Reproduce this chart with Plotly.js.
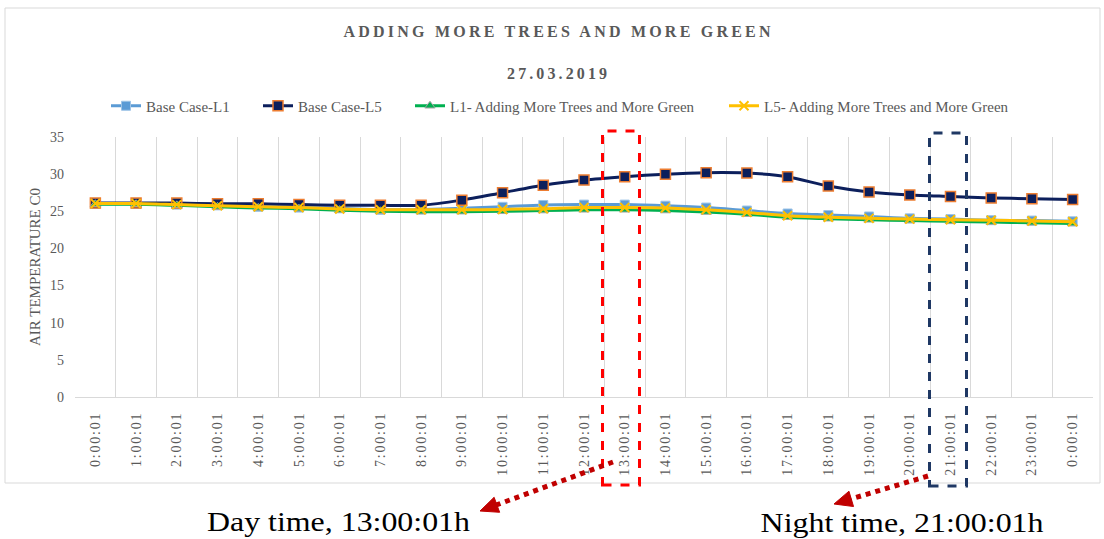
<!DOCTYPE html>
<html>
<head>
<meta charset="utf-8">
<script src="https://cdn.plot.ly/plotly-3.0.1.min.js"></script>
<style>
  html, body { margin: 0; padding: 0; background: #ffffff; }
  #chart { width: 1104px; height: 539px; }
</style>
</head>
<body>
<div id="chart"></div>
<script>
// ---- data ----
const timeLabels = ["0:00:01","1:00:01","2:00:01","3:00:01","4:00:01","5:00:01","6:00:01","7:00:01",
  "8:00:01","9:00:01","10:00:01","11:00:01","12:00:01","13:00:01","14:00:01","15:00:01","16:00:01",
  "17:00:01","18:00:01","19:00:01","20:00:01","21:00:01","22:00:01","23:00:01","0:00:01"];
const seriesNames = ["Base Case-L1", "Base Case-L5", "L1- Adding More Trees and More Green", "L5- Adding More Trees and More Green"];
const baseCaseL1 = [26.0,26.0,25.9,25.8,25.6,25.5,25.4,25.2,25.25,25.4,25.6,25.85,25.9,25.9,25.75,25.5,25.1,24.7,24.5,24.3,24.05,23.95,23.8,23.75,23.65];
const baseCaseL5 = [26.1,26.1,26.1,26.0,26.0,25.9,25.8,25.8,25.8,26.5,27.5,28.5,29.2,29.65,30.0,30.2,30.15,29.65,28.4,27.6,27.2,27.0,26.8,26.7,26.6];
const l1Green    = [25.95,25.95,25.8,25.6,25.45,25.35,25.15,25.0,24.95,24.95,25.0,25.1,25.2,25.2,25.1,24.9,24.6,24.2,24.0,23.85,23.75,23.65,23.55,23.45,23.35];
const l5Green    = [26.05,26.05,25.9,25.75,25.6,25.5,25.3,25.2,25.2,25.2,25.25,25.35,25.5,25.5,25.45,25.2,24.85,24.4,24.2,24.05,23.95,23.85,23.8,23.7,23.6];
const chartTitle = "ADDING MORE TREES AND MORE GREEN";
const chartSubtitle = "27.03.2019";
const yTitle = "AIR TEMPERATURE C0";
const dayNote = "Day time, 13:00:01h";
const nightNote = "Night time, 21:00:01h";

// ---- layout geometry ----
const W = 1104, H = 539;
const M = { l: 75, r: 11, t: 137, b: 142 };
const PW = W - M.l - M.r, PH = H - M.t - M.b;
const px = x => (x - M.l) / PW;
const py = y => (M.t + PH - y) / PH;

const xIdx = timeLabels.map((_, i) => i);
const gray = "#595959";
const serif = "Liberation Serif, Times New Roman, serif";
const smooth = { shape: "spline", smoothing: 0.7 };
const legendLeft = [106, 258, 410, 724];

function legendCfg(i) {
  return { orientation: "h", x: px(legendLeft[i]), xanchor: "left", y: py(106), yanchor: "middle",
           font: { family: serif, size: 15, color: gray }, bgcolor: "rgba(0,0,0,0)", itemwidth: 30 };
}

const traces = [
  { x: xIdx, y: baseCaseL1, name: seriesNames[0], legend: "legend", type: "scatter", mode: "lines+markers",
    line: Object.assign({ color: "#5B9BD5", width: 3 }, smooth),
    marker: { symbol: "square", size: 9, color: "#5B9BD5", line: { color: "#9DC3E6", width: 1 } } },
  { x: xIdx, y: baseCaseL5, name: seriesNames[1], legend: "legend2", type: "scatter", mode: "lines+markers",
    line: Object.assign({ color: "#0C1F5C", width: 3 }, smooth),
    marker: { symbol: "square", size: 10, color: "#0C1F5C", line: { color: "#ED7D31", width: 1.5 } } },
  { x: xIdx, y: l1Green, name: seriesNames[2], legend: "legend3", type: "scatter", mode: "lines+markers",
    line: Object.assign({ color: "#00B050", width: 3 }, smooth),
    marker: { symbol: "triangle-up", size: 9, color: "#00B050", line: { color: "#A5A5A5", width: 1 } } },
  { x: xIdx, y: l5Green, name: seriesNames[3], legend: "legend4", type: "scatter", mode: "lines+markers",
    line: Object.assign({ color: "#FFC000", width: 3 }, smooth),
    marker: { symbol: "x-thin-open", size: 9, color: "#FFC000", line: { color: "#FFC000", width: 2 } } }
];

function arrowShapes(x0, y0, x1, y1, color) {
  const dx = x1 - x0, dy = y1 - y0;
  const len = Math.hypot(dx, dy);
  const ux = dx / len, uy = dy / len;
  const hl = 18, hw = 8;
  const bx = x1 - ux * hl, by = y1 - uy * hl;
  const pxv = -uy * hw, pyv = ux * hw;
  return [
    { type: "line", xref: "paper", yref: "paper", x0: px(x0), y0: py(y0), x1: px(bx + ux * 2), y1: py(by + uy * 2),
      line: { color: color, width: 5, dash: "dot" } },
    { type: "path", xref: "paper", yref: "paper",
      path: `M ${px(x1)} ${py(y1)} L ${px(bx + pxv)} ${py(by + pyv)} L ${px(bx - pxv)} ${py(by - pyv)} Z`,
      fillcolor: color, line: { color: color, width: 1 } }
  ];
}

const shapes = [
  { type: "rect", xref: "paper", yref: "paper", x0: px(5), x1: px(1100), y0: py(483), y1: py(8),
    line: { color: "#D9D9D9", width: 1 }, layer: "below" },
  { type: "rect", xref: "paper", yref: "paper", x0: px(602.5), x1: px(639.5), y0: py(485), y1: py(131),
    line: { color: "#FF0000", width: 3, dash: "dash" } },
  { type: "rect", xref: "paper", yref: "paper", x0: px(929.5), x1: px(966.5), y0: py(486), y1: py(133),
    line: { color: "#1F3864", width: 3, dash: "dash" } }
].concat(arrowShapes(613, 462, 480, 511, "#C00000"))
 .concat(arrowShapes(928, 476, 834, 504, "#C00000"));

const layout = {
  width: W, height: H,
  margin: M,
  paper_bgcolor: "#ffffff",
  plot_bgcolor: "#ffffff",
  showlegend: true,
  title: { text: chartTitle, x: px(557), xanchor: "center", y: 1 - 31 / H, yanchor: "middle",
           xref: "paper", yref: "container",
           font: { family: serif, size: 16, color: gray, weight: "bold" } },
  legend: legendCfg(0), legend2: legendCfg(1), legend3: legendCfg(2), legend4: legendCfg(3),
  xaxis: {
    range: [-0.5, 24.5], tickmode: "array", tickvals: xIdx, ticktext: timeLabels,
    tickangle: -90, ticks: "", showgrid: false, zeroline: false,
    showline: true, linecolor: "#D9D9D9", linewidth: 1,
    tickfont: { family: serif, size: 14, color: gray },
    ticklabelstandoff: 8,
    minor: { tick0: -0.5, dtick: 1, showgrid: true, gridcolor: "#D9D9D9", gridwidth: 1, ticks: "" },
    fixedrange: true
  },
  yaxis: {
    range: [0, 35], dtick: 5, tick0: 0, showgrid: false, zeroline: false, showline: false, ticks: "",
    tickfont: { family: serif, size: 14, color: gray },
    ticklabelstandoff: 10,
    title: { text: yTitle, font: { family: serif, size: 15, color: gray }, standoff: 5 },
    fixedrange: true
  },
  shapes: shapes,
  annotations: [
    { text: "<b>" + chartSubtitle + "</b>", xref: "paper", yref: "paper", x: px(557), y: py(73),
      xanchor: "center", yanchor: "middle", showarrow: false,
      font: { family: serif, size: 16, color: gray } },
    { text: dayNote, xref: "paper", yref: "paper", x: px(338.5), y: py(521),
      xanchor: "center", yanchor: "middle", showarrow: false,
      font: { family: serif, size: 28, color: "#000000" } },
    { text: nightNote, xref: "paper", yref: "paper", x: px(901.5), y: py(522),
      xanchor: "center", yanchor: "middle", showarrow: false,
      font: { family: serif, size: 28, color: "#000000" } }
  ]
};

function stretch(el, len, adjust) {
  el.setAttribute("textLength", len);
  el.setAttribute("lengthAdjust", adjust);
}

Plotly.newPlot("chart", traces, layout, { displayModeBar: false, staticPlot: true }).then(gd => {
  const t = gd.querySelector(".gtitle");
  if (t) stretch(t, 427, "spacing");
  gd.querySelectorAll(".annotation-text").forEach(el => {
    if (el.textContent === chartSubtitle) stretch(el, 100, "spacing");
    if (el.textContent === dayNote) stretch(el, 263, "spacingAndGlyphs");
    if (el.textContent === nightNote) stretch(el, 283, "spacingAndGlyphs");
  });
  gd.querySelectorAll(".xtick text").forEach(el => { el.style.letterSpacing = "1.8px"; });
});
</script>
</body>
</html>
